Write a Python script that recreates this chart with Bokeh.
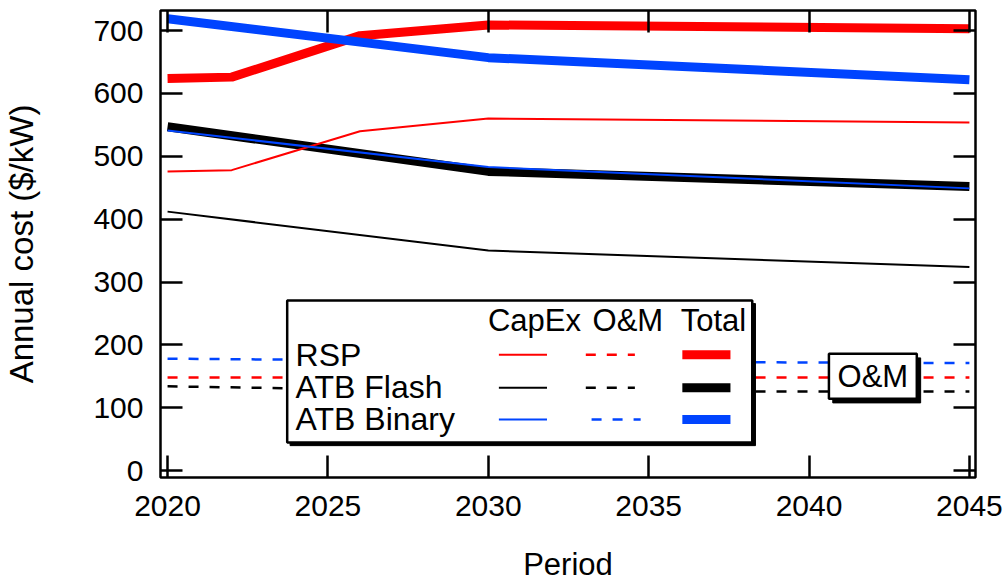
from bokeh.plotting import figure
from bokeh.models import (Range1d, LinearAxis, FixedTicker, BoxAnnotation, Label,
                          CustomJSTickFormatter)
from bokeh.embed import file_html
from bokeh.resources import INLINE

# ---- data ----
rsp_years = [2020, 2022, 2026, 2030, 2045]
rsp_capex = [476, 478, 540, 560, 554]
rsp_om = [148, 148, 148, 148, 148]
rsp_total = [624, 626, 692, 709, 703]

atb_years = [2020, 2030, 2045]
flash_capex = [412, 350, 324]
flash_om = [134, 126, 126]
flash_total = [547, 476, 452]
binary_capex = [541, 483, 449]
binary_om = [178, 174, 171]
binary_total = [719, 657, 622]

x_ticks = [2020, 2025, 2030, 2035, 2040, 2045]
y_ticks = [0, 100, 200, 300, 400, 500, 600, 700]

series_names = ["RSP", "ATB Flash", "ATB Binary"]
column_names = ["CapEx", "O&M", "Total"]

RED = "#ff0000"
BLACK = "#000000"
BLUE = "#0044ff"
FONT = "Liberation Sans"
DASH = "10 11"

p = figure(frame_width=815, frame_height=467,
           min_border_left=153, min_border_right=32,
           min_border_top=10, min_border_bottom=105,
           x_range=Range1d(2019.78, 2045.19), y_range=Range1d(-11, 732),
           output_backend="svg", toolbar_location=None,
           x_axis_label="Period", y_axis_label="Annual cost ($/kW)")
p.background_fill_color = "white"
p.border_fill_color = "white"
p.grid.visible = False
p.outline_line_color = "black"
p.outline_line_width = 2.5

def style_axis(ax, ticks, show_labels):
    ax.ticker = FixedTicker(ticks=ticks)
    ax.major_tick_in = 22
    ax.major_tick_out = 0
    ax.minor_tick_in = 0
    ax.minor_tick_out = 0
    ax.major_tick_line_width = 2.5
    ax.major_tick_line_color = "black"
    ax.axis_line_color = None
    ax.major_label_text_font = FONT
    ax.major_label_text_color = "black"
    ax.axis_label_text_font = FONT
    ax.axis_label_text_font_style = "normal"
    ax.axis_label_text_color = "black"
    ax.major_label_text_font_size = "30px"
    if not show_labels:
        ax.formatter = CustomJSTickFormatter(code="return '';")
        ax.major_label_standoff = 0

style_axis(p.xaxis[0], x_ticks, True)
style_axis(p.yaxis[0], y_ticks, True)
p.xaxis[0].major_label_standoff = 18
p.xaxis[0].axis_label_standoff = 28
p.xaxis[0].axis_label_text_font_size = "31px"
p.yaxis[0].major_label_standoff = 17
p.yaxis[0].axis_label_standoff = 50
p.yaxis[0].axis_label_text_font_size = "33px"

ax_top = LinearAxis()
style_axis(ax_top, x_ticks, False)
p.add_layout(ax_top, "above")
ax_right = LinearAxis()
style_axis(ax_right, y_ticks, False)
p.add_layout(ax_right, "right")

# ---- data lines ----
p.line(rsp_years, rsp_total, line_color=RED, line_width=9)
p.line(atb_years, flash_total, line_color=BLACK, line_width=9)
p.line(atb_years, binary_total, line_color=BLUE, line_width=9)
p.line(rsp_years, rsp_capex, line_color=RED, line_width=2)
p.line(atb_years, flash_capex, line_color=BLACK, line_width=2)
p.line(atb_years, binary_capex, line_color=BLUE, line_width=2)
p.line(rsp_years, rsp_om, line_color=RED, line_width=2.5, line_dash=DASH)
p.line(atb_years, flash_om, line_color=BLACK, line_width=2.5, line_dash=DASH)
p.line(atb_years, binary_om, line_color=BLUE, line_width=2.5, line_dash=DASH)

# ---- custom legend box ----
p.add_layout(BoxAnnotation(left=2023.82, right=2038.33, top=265.7, bottom=39.7,
                           fill_color="black", fill_alpha=1, line_color="black",
                           line_alpha=1))
p.add_layout(BoxAnnotation(left=2023.73, right=2038.23, top=270.5, bottom=44.5,
                           fill_color="white", fill_alpha=1, line_color="black",
                           line_width=2.5, line_alpha=1))

header_x = [2029.99, 2033.25, 2036.0]
for name, hx in zip(column_names, header_x):
    p.add_layout(Label(x=hx, y=238.0, text=name, text_font=FONT,
                       text_font_size="31px", text_color="black",
                       text_baseline="alphabetic", level="overlay"))

row_y_text = [184.6, 133.3, 82.6]
row_y_line = [184.1, 131.6, 81.1]
colors = [RED, BLACK, BLUE]
for name, ty, ly, c in zip(series_names, row_y_text, row_y_line, colors):
    p.add_layout(Label(x=2023.99, y=ty, text=name, text_font=FONT,
                       text_font_size="32px", text_color="black",
                       text_baseline="alphabetic", level="overlay"))
    p.line([2030.33, 2031.83], [ly, ly], line_color=c, line_width=2, level="overlay")
    off = 0.18 if c == BLUE else 0.0
    p.line([2033.04 + off, 2034.57 + off], [ly, ly], line_color=c, line_width=2.5,
           line_dash=DASH, level="overlay")
    p.line([2036.05, 2037.55], [ly, ly], line_color=c, line_width=9, level="overlay")

# ---- O&M callout box ----
p.add_layout(BoxAnnotation(left=2040.74, right=2043.48, top=179.3, bottom=107.7,
                           fill_color="black", fill_alpha=1, line_color="black",
                           line_alpha=1))
p.add_layout(BoxAnnotation(left=2040.62, right=2043.36, top=185.7, bottom=114.1,
                           fill_color="white", fill_alpha=1, line_color="black",
                           line_width=2.5, line_alpha=1))
p.add_layout(Label(x=2041.99, y=149.6, text="O&M", text_font=FONT,
                   text_font_size="31px", text_color="black", text_align="center",
                   text_baseline="middle", level="overlay"))

open("out.html", "w").write(file_html(p, INLINE))
